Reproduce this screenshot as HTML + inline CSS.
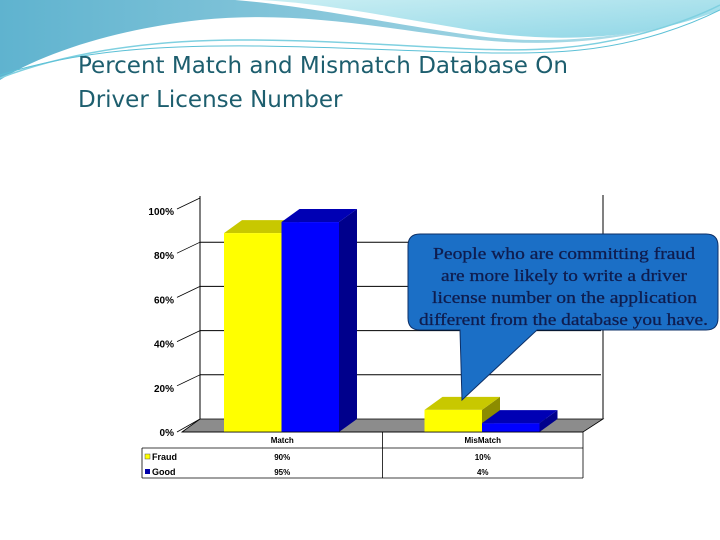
<!DOCTYPE html>
<html><head><meta charset="utf-8">
<style>
html,body{margin:0;padding:0;background:#fff;}
svg{display:block;}
text{font-family:"Liberation Sans",sans-serif;}
text.serif{font-family:"Liberation Serif","DejaVu Serif",serif;}
text.ttl{font-family:"DejaVu Sans","Liberation Sans",sans-serif;}
</style></head>
<body>
<svg width="720" height="540" viewBox="0 0 720 540">
<defs>
<linearGradient id="hdr" x1="0" y1="0" x2="1" y2="0">
<stop offset="0" stop-color="#5fb3cf"/><stop offset="0.5" stop-color="#8cc9dc"/><stop offset="1" stop-color="#b7e3ec"/>
</linearGradient>
<linearGradient id="hdr2" x1="0" y1="0" x2="1" y2="1">
<stop offset="0" stop-color="#c9eef3"/><stop offset="1" stop-color="#8fd6e6"/>
</linearGradient>
</defs>
<g>
<path d="M0,0 H720 V10 C640,40 560,48 480,40 C380,28 300,10 200,20 C110,30 40,55 0,80 Z" fill="url(#hdr)"/>
<path d="M235,0 H720 V5 C660,35 560,48 470,35 C380,22 300,5 235,0 Z" fill="#fff"/>
<path d="M260,0 H720 V10 C650,38 560,45 470,30 C380,15 320,3 260,0Z" fill="url(#hdr2)"/>
<path d="M0,78 C60,55 140,40 240,40 C380,40 480,55 560,48 C630,42 690,20 720,5" stroke="#7fd0e0" stroke-width="1.5" fill="none"/>
<path d="M0,75 C80,50 160,45 260,46 C400,48 500,58 580,50 C640,44 690,25 720,10" stroke="#5cc0d6" stroke-width="1" fill="none"/>
</g>
<text class="ttl" x="78" y="73" font-size="23" fill="#1d5e6e">Percent Match and Mismatch Database On</text>
<text class="ttl" x="78" y="107" font-size="23" fill="#1d5e6e">Driver License Number</text>
<g id="chart"></g>
<g>
<path d="M420,234 H706 Q718,234 718,246 V318 Q718,330 706,330 H537 L462,400 L460,330 H420 Q408,330 408,318 V246 Q408,234 420,234 Z" fill="#1b6fc6" stroke="#0d2f66" stroke-width="1"/>
<g font-size="17" fill="#0f1d4f" stroke="#0f1d4f" stroke-width="0.3">
<text class="serif" x="433" y="259" textLength="262" lengthAdjust="spacingAndGlyphs">People who are committing fraud</text>
<text class="serif" x="441" y="281" textLength="246" lengthAdjust="spacingAndGlyphs">are more likely to write a driver</text>
<text class="serif" x="432" y="303" textLength="265" lengthAdjust="spacingAndGlyphs">license number on the application</text>
<text class="serif" x="419" y="325" textLength="289" lengthAdjust="spacingAndGlyphs">different from the database you have.</text>
</g>
</g>
<script>
const categories = ["Match", "MisMatch"];
const seriesNames = ["Fraud", "Good"];
const fraudValues = [90, 10];
const goodValues = [95, 4];
const tickValues = [0, 20, 40, 60, 80, 100];
const tickLabels = ["0%", "20%", "40%", "60%", "80%", "100%"];

const NS = "http://www.w3.org/2000/svg";
const g = document.getElementById("chart");
function mk(tag, attrs, parent) {
  const e = document.createElementNS(NS, tag);
  for (const k in attrs) e.setAttribute(k, attrs[k]);
  (parent || g).appendChild(e);
  return e;
}
const X0 = 182, X1 = 583, Y0 = 432, H = 221, DX = 18, DY = -13;
const y = v => Y0 - v / 100 * H;
const catW = (X1 - X0) / categories.length;
const barW = 57.5;

for (let i = 0; i < tickValues.length; i++) {
  const v = tickValues[i];
  if (v > 0 && v < 100) {
    const gl = mk("line", {x1: X0 + DX, y1: y(v) + DY, x2: X1 + DX, y2: y(v) + DY, stroke: "#000", "stroke-width": 1});
    
    
  }
  const dg = mk("line", {x1: X0 - 5, y1: y(v) + (v>0?-2:0), x2: X0 + DX, y2: y(v) + DY, stroke: "#000", "stroke-width": 0.8});
  
  
  const t = mk("text", {x: X0 - 8, y: y(v) + 4, "font-size": 10, "text-anchor": "end", fill: "#000", "font-weight": "bold"});
  t.textContent = tickLabels[i];
  
  
}
const lw = mk("line", {x1: X0 + DX, y1: y(100) + DY - 2, x2: X0 + DX, y2: Y0 + DY, stroke: "#000"});


const rw = mk("line", {x1: X1 + DX + 2, y1: y(100) + DY - 3, x2: X1 + DX + 2, y2: Y0 + DY, stroke: "#000"});


const fl = mk("polygon", {points: `${X0},${Y0} ${X1},${Y0} ${X1+DX+2},${Y0+DY} ${X0+DX},${Y0+DY}`, fill: "#8c8c8c", stroke: "#000", "stroke-width": 0.8});



function bar(x, v, front, top, side, name) {
  const yt = y(v);
  const grp = mk("g", {});
  
  
  mk("polygon", {points: `${x+barW},${yt} ${x+barW+DX},${yt+DY} ${x+barW+DX},${Y0+DY} ${x+barW},${Y0}`, fill: side}, grp);
  mk("polygon", {points: `${x},${yt} ${x+DX},${yt+DY} ${x+barW+DX},${yt+DY} ${x+barW},${yt}`, fill: top}, grp);
  mk("rect", {x: x, y: yt, width: barW, height: Y0 - yt, fill: front}, grp);
}
for (let c = 0; c < categories.length; c++) {
  const base = X0 + c * catW + 42;
  bar(base, fraudValues[c], "#ffff00", "#c8c800", "#8c8c00", "bar-fraud-" + categories[c].toLowerCase());
  bar(base + barW, goodValues[c], "#0000ff", "#0000b4", "#00008c", "bar-good-" + categories[c].toLowerCase());
}

const T0 = 142;
const tl = [[X0, 432, X1, 432], [T0, 448, X1, 448], [T0, 478, X1, 478], [T0, 448, T0, 478], [X1, 432, X1, 478], [X0 + catW, 432, X0 + catW, 478]];
tl.forEach(l => {
  const e = mk("line", {x1: l[0], y1: l[1], x2: l[2], y2: l[3], stroke: "#000", "stroke-width": 0.8});
  
  
});
const rows = [fraudValues, goodValues];
const swatch = ["#ffff00", "#0000aa"];
for (let c = 0; c < categories.length; c++) {
  const cx = X0 + catW * (c + 0.5);
  const h = mk("text", {x: cx, y: 443, "font-size": 8, "text-anchor": "middle", "font-weight": "bold"});
  h.textContent = categories[c];
  
  
  for (let r = 0; r < rows.length; r++) {
    const t = mk("text", {x: cx, y: 460 + r * 15, "font-size": 8, "text-anchor": "middle", "font-weight": "bold"});
    t.textContent = rows[r][c] + "%";
    
    
  }
}
for (let r = 0; r < seriesNames.length; r++) {
  const s = mk("rect", {x: 145, y: 454 + r * 15, width: 5, height: 5, fill: swatch[r], stroke: r === 0 ? "#555" : "none", "stroke-width": 0.5});
  
  
  const t = mk("text", {x: 152, y: 460 + r * 15, "font-size": 9, "font-weight": "bold"});
  t.textContent = seriesNames[r];
  
  
}
</script>
</svg>
</body></html>
